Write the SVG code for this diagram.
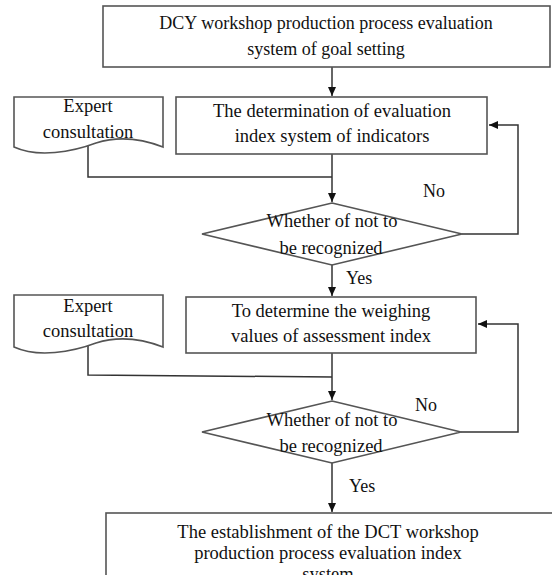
<svg xmlns="http://www.w3.org/2000/svg" width="552" height="575" viewBox="0 0 552 575">
<style>
.box{fill:#fff;stroke:#555;stroke-width:1.6}
.t{font-family:"Liberation Serif","Times New Roman",serif;font-size:18.5px;fill:#111;text-anchor:middle}
.l{font-family:"Liberation Serif","Times New Roman",serif;font-size:18px;fill:#111}
.c{fill:none;stroke:#333;stroke-width:1.5}
</style>
<defs>
<marker id="ah" markerWidth="10" markerHeight="10" refX="9" refY="5" orient="auto" markerUnits="userSpaceOnUse">
<path d="M0,1 L9,5 L0,9 Z" fill="#111"/>
</marker>
</defs>
<rect width="552" height="575" fill="#fff"/>
<g id="connectors">
<path class="c" d="M332,67 V96" marker-end="url(#ah)"/>
<path class="c" d="M332,154 V202" marker-end="url(#ah)"/>
<path class="c" d="M88,146 V177 H332"/>
<path class="c" d="M462,234 H518 V125 H489" marker-end="url(#ah)"/>
<path class="c" d="M332,265 V296" marker-end="url(#ah)"/>
<path class="c" d="M332,353 V400" marker-end="url(#ah)"/>
<path class="c" d="M88,346 V375 L332,377"/>
<path class="c" d="M461,432 H518 V324 H478" marker-end="url(#ah)"/>
<path class="c" d="M332,463 V512" marker-end="url(#ah)"/>
<text class="l" x="423" y="197">No</text>
<text class="l" x="346" y="284">Yes</text>
<text class="l" x="415" y="411">No</text>
<text class="l" x="349" y="492">Yes</text>
</g>
<g id="goal">
<rect class="box" x="103" y="6" width="447" height="61"/>
<text class="t" x="326" y="29" style="font-size:18px">DCY workshop production process evaluation</text>
<text class="t" x="326" y="55" style="font-size:18px">system of goal setting</text>
</g>
<g id="expert1">
<path class="box" d="M14,97 H163 V147 C140,138 118,136 96,143 C72,152 38,158 14,147 Z"/>
<text class="t" x="88" y="112">Expert</text>
<text class="t" x="88" y="138">consultation</text>
</g>
<g id="determine-index">
<rect class="box" x="176" y="97" width="311" height="57"/>
<text class="t" x="332" y="117">The determination of evaluation</text>
<text class="t" x="332" y="142">index system of indicators</text>
</g>
<g id="decision1">
<polygon class="box" points="332,203 462,234 332,265 202,234"/>
<text class="t" x="332" y="227">Whether of not to</text>
<text class="t" x="331" y="254">be recognized</text>
</g>
<g id="expert2">
<path class="box" d="M14,295 H163 V347 C140,338 118,336 96,343 C72,352 38,358 14,347 Z"/>
<text class="t" x="88" y="312">Expert</text>
<text class="t" x="88" y="337">consultation</text>
</g>
<g id="determine-weights">
<rect class="box" x="186" y="297" width="290" height="56"/>
<text class="t" x="331" y="317">To determine the weighing</text>
<text class="t" x="331" y="342">values of assessment index</text>
</g>
<g id="decision2">
<polygon class="box" points="332,401 461,432 332,463 202,432"/>
<text class="t" x="332" y="426">Whether of not to</text>
<text class="t" x="331" y="452">be recognized</text>
</g>
<g id="establish">
<rect class="box" x="106" y="513" width="460" height="80"/>
<text class="t" x="328" y="538">The establishment of the DCT workshop</text>
<text class="t" x="328" y="559">production process evaluation index</text>
<text class="t" x="328" y="580">system</text>
</g>
</svg>
